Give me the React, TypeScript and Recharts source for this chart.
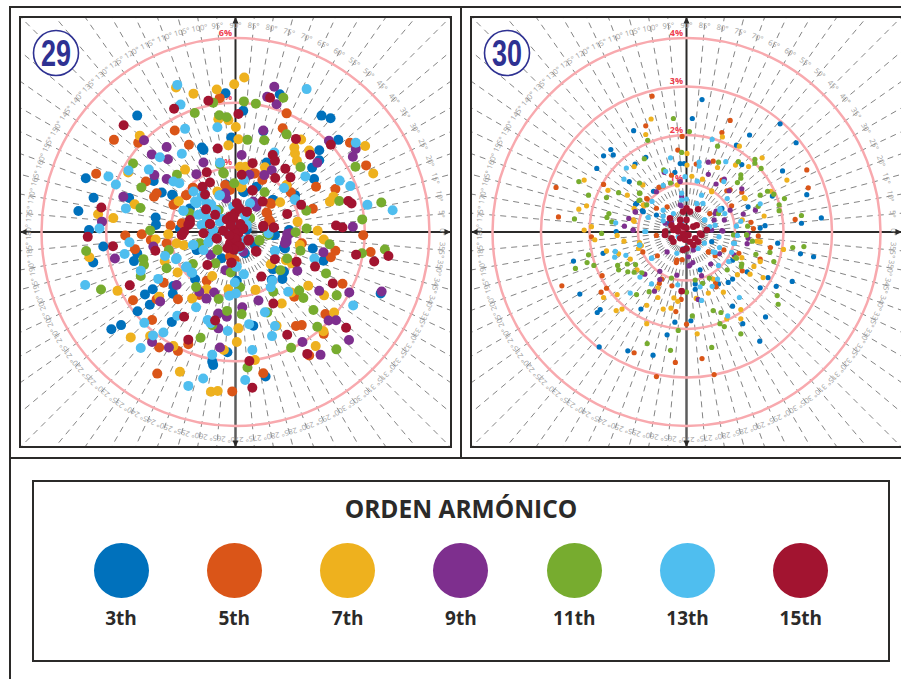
import { ScatterChart, Scatter, XAxis, YAxis, ReferenceLine, ReferenceDot } from "recharts";

const harmonics = ["3th", "5th", "7th", "9th", "11th", "13th", "15th"];
const harmonicColors = ["#0071BC", "#DA5518", "#EEB11E", "#7E2F8E", "#77AC2F", "#4FBEEF", "#A21430"];
const angleTicks = [0,5,10,15,20,25,30,35,40,45,50,55,60,65,70,75,80,85,90,95,100,105,110,115,120,125,130,135,140,145,150,155,160,165,170,175,180,185,190,195,200,205,210,215,220,225,230,235,240,245,250,255,260,265,270,275,280,285,290,295,300,305,310,315,320,325,330,335,340,345,350,355];

const p29h3 = [[-0.31,4.29],[-3.04,3.6],[-1.04,2.61],[-0.13,2.92],[-4.63,1.66],[-4.39,1.06],[-4.86,0.65],[-2.47,0.45],[-2.46,0.22],[-2.53,1.58],[-2.28,1.22],[-1.96,1.15],[-3.29,1.05],[-4.53,0.06],[-0.29,1.47],
[1.37,4.26],[2.66,3.6],[2.94,3.52],[3.18,2.85],[2.59,2.53],[2.59,2.22],[2.37,1.99],[2.43,1.64],[0.24,3.75],[-0.12,2.91],[0.86,3.12],[0.96,2.15],[0.65,1.4],[0.26,1.23],[1.15,0.99],[0.86,0.16],[1.17,-0.1],[1.66,0.06],[0.4,0.47],
[-4.09,-0.45],[-4.4,-0.94],[-3.14,-0.9],[-3.04,-0.66],[-2.56,-1.77],[-2.8,-1.93],[-2.65,-2.25],[-3.03,-2.45],[-1.94,-1.91],[-1.92,-1.67],[-3.54,-2.88],[-3.84,-3.01],[-1.97,-2.78],[-0.72,-4.01],[-0.69,-4.11],[-0.25,-3.72],[-1.2,-0.56],[-1.25,-1.46],
[4.49,-1.9],[2.72,-0.89],[2.39,-0.51],[1.5,-0.47],[1.17,-1.15],[1.5,-1.23],[1.45,-1.45],[1.12,-1.48],[0.04,-1.51],[0.55,-2.9],[0.93,-4.47],
[-0.99,2.54],[-1.94,1.14],[-1.41,0.73],[0.24,1.25],[1.17,0.99],[1.84,1.14],[1.22,-0.09],[1.53,-0.51],[-1.2,-0.54],[-1.72,0.11],[0.35,0.06],[0.29,-0.66],[-0.43,-0.81],[0.6,-0.4]];
const p29h5 = [[-0.49,4.14],[-1.88,3.14],[-3.76,2.85],[-3.01,2.76],[-1.44,2.7],[-4.31,1.8],[-2.77,1.56],[-2.44,1.2],[-2.52,1.09],[-1.87,0.87],[-1.32,1.37],[-1.53,1.14],[-3.41,-0.11],[-2.9,-0.07],[-2.01,0.2],
[1.58,3.67],[1.46,3.21],[3.54,2.76],[4.04,2.06],[2.49,1.4],[1.71,1.23],[3.09,1.33],[2.39,0.72],[3.95,-0.1],[0.98,0.58],[1.04,0.37],[1.1,0.87],[0.83,1.61],[0.6,1.81],[1.58,1.44],
[-3.11,-0.53],[-2.22,-1.57],[-3.17,-2.11],[-2.44,-2.08],[-1.78,-2.08],[-2.58,-2.72],[-1.46,-3.47],[-2.36,-3.57],[-1.78,-3.68],[-2.42,-4.38],[-0.1,-4.93],[-0.89,-1.51],[-1.12,-1.95],[-2.62,-0.25],[-2.13,-0.35],
[3.09,-0.58],[2.95,-0.78],[4.18,-0.62],[3.31,-1.6],[1.82,-2.0],[2.78,-2.54],[1.87,-2.91],[2.05,-2.88],[2.73,-3.15],[0.86,-4.37],[2.28,-3.82],[2.05,-0.35],[-0.07,-0.87],
[-1.3,1.35],[-1.51,1.14],[-0.32,1.45],[-0.17,1.3],[0.96,0.6],[1.07,0.89],[0.55,1.81],[-0.17,-0.76],[-0.02,-0.87],[-1.66,0.27],[-1.92,0.84],[1.07,0.32]];
const p29h7 = [[-1.84,4.47],[-0.58,4.41],[-1.3,4.28],[-0.04,4.57],[-0.53,3.49],[-0.22,3.46],[0.01,3.25],[-2.96,2.98],[0.09,2.87],[-0.22,2.68],[-3.32,1.84],[-1.56,1.93],[-3.12,0.86],[-1.76,0.95],[-4.25,0.55],[-3.78,0.43],[-0.56,1.25],[-2.08,-0.07],[-2.47,-0.23],
[0.27,4.78],[2.03,2.86],[1.82,2.61],[1.84,2.43],[2.28,2.52],[1.9,2.2],[4.01,2.66],[4.26,1.81],[1.38,0.92],[0.17,1.38],[2.92,0.94],[3.03,1.09],[1.92,0.32],[2.54,0.04],[2.73,-0.23],[0.91,2.0],[0.14,2.02],[0.31,2.02],
[-4.52,-0.78],[-1.6,-0.41],[-2.19,-0.9],[-1.79,-1.25],[-3.65,-1.82],[-2.36,-2.0],[-1.34,-2.06],[-0.72,-1.36],[-0.89,-1.77],[-3.24,-3.26],[-2.64,-3.22],[-1.92,-3.53],[-1.72,-4.32],[-0.76,-4.94],[-0.55,-4.92],[-0.36,-3.65],[-0.22,-1.77],[0.04,-3.4],[0.09,-2.98],
[1.99,-0.4],[1.09,-1.0],[1.56,-0.87],[2.25,-1.66],[0.62,-1.79],[2.74,-1.96],[1.72,-1.87],[1.43,-2.21],[3.05,-2.49],[2.72,-3.07],[1.27,-2.9],[2.48,-3.53],[0.6,-3.96],[1.58,1.45],[-1.82,-0.35],[0.19,1.4],[1.74,-0.97]];
const p29h9 = [[-2.83,2.84],[-2.13,2.63],[-2.59,2.4],[-2.09,2.25],[-0.99,2.15],[-2.51,1.76],[-2.13,1.64],[-1.21,1.79],[-3.47,1.09],[-4.13,0.32],[-0.29,1.04],[0.19,2.38],
[1.2,4.49],[0.98,4.18],[1.27,3.95],[0.86,3.14],[2.89,2.82],[3.72,2.57],[3.63,2.33],[2.53,2.14],[1.12,1.91],[0.89,1.76],[0.43,1.77],[0.55,0.94],[0.65,0.78],[3.63,0.16],[1.69,-0.04],[1.58,-0.3],
[-3.73,-0.82],[-2.54,-0.45],[-1.82,-1.64],[-2.33,-2.15],[-1.12,-1.85],[-0.9,-2.06],[-0.66,-1.87],[-0.53,-2.52],[-0.27,-2.62],[-0.53,-2.98],[-2.58,-3.4],[-2.06,-3.57],[-0.48,-3.57],[-0.77,-0.71],[-0.31,-1.18],
[2.72,-0.63],[1.56,-0.25],[1.6,-0.06],[1.91,-1.2],[2.59,-1.82],[3.52,-1.87],[4.52,-1.84],[0.71,-2.12],[0.21,-2.33],[2.88,-2.74],[3.11,-2.73],[3.51,-3.34],[2.07,-3.4],[2.63,-3.8],[0.24,-0.61],
[0.63,0.84],[-0.32,1.2],[-0.71,0.06],[1.58,-0.2],[1.53,-0.35]];
const p29h11 = [[-0.69,4.0],[-1.26,3.68],[-0.5,3.61],[-0.27,3.55],[-3.17,2.12],[-1.81,1.77],[-0.48,2.1],[-0.36,1.81],[-2.91,1.38],[-2.94,0.74],[-0.04,1.51],[-2.64,0.05],[-0.52,0.68],[-1.41,0.58],
[1.48,4.15],[0.26,4.04],[0.63,3.97],[1.58,3.02],[0.89,2.84],[0.37,2.85],[2.01,2.01],[3.71,2.02],[0.9,1.23],[3.21,0.96],[2.19,0.66],[4.51,0.91],[3.92,0.39],[2.2,0.11],[1.86,-0.01],[1.02,-0.09],[0.45,0.44],
[-4.62,-0.59],[-4.16,-1.78],[-2.85,-0.84],[-2.83,-1.02],[-2.93,-1.36],[-2.13,-1.12],[-2.06,-0.56],[-1.32,-0.99],[-1.22,-1.7],[-0.52,-2.07],[-0.26,-2.44],[-0.72,-2.88],[-1.08,-3.27],[-0.62,-0.97],[-0.15,-1.25],[-0.56,-0.56],[-1.1,-0.35],
[0.74,-0.27],[2.01,-0.58],[1.6,-0.82],[2.91,-0.38],[3.91,-0.66],[4.62,-0.54],[2.8,-1.28],[1.39,-1.18],[1.17,-1.85],[1.97,-1.81],[2.1,-2.04],[3.13,-1.96],[2.41,-2.41],[0.98,-2.49],[0.19,-2.54],[2.53,-2.93],[1.72,-3.58],[3.12,-3.63],[0.37,-4.19],[0.14,-1.71],
[-0.38,1.84],[-0.99,0.22],[0.45,0.42],[0.74,-0.25],[0.99,-0.07],[-0.55,-0.54]];
const p29h13 = [[-1.8,4.55],[-1.7,3.94],[-1.56,3.19],[-0.56,3.24],[-2.34,2.31],[-1.66,2.42],[-0.48,2.14],[-2.68,1.93],[-3.93,1.72],[-3.7,1.47],[-1.92,1.56],[-1.74,1.51],[-3.39,0.73],[-1.61,0.66],[-4.21,0.11],[-0.5,1.13],[-1.25,0.94],[-1.05,1.09],[-3.31,1.9],
[2.2,4.42],[3.72,2.76],[1.2,2.46],[0.26,1.61],[2.16,1.72],[3.22,1.59],[3.55,1.42],[1.5,1.36],[1.84,1.01],[4.08,0.84],[4.86,0.67],
[-4.65,-1.64],[-3.43,-0.68],[-3.28,-0.32],[-2.93,-1.2],[-2.39,-1.45],[-2.18,-0.74],[-1.84,-0.84],[-1.32,-0.4],[-0.84,-0.32],[-1.53,-1.09],[-1.34,-1.26],[-1.22,-2.33],[-1.8,-2.59],[-2.82,-2.81],[-0.86,-2.72],[-0.77,-2.82],[-2.23,-3.11],[-2.55,-3.2],[-0.24,-3.06],[-2.93,-3.59],[-0.72,-3.8],[-1.0,-4.53],[-1.46,-4.76],[-0.02,-1.56],[0.01,-1.9],[-0.19,-1.97],
[1.22,-0.59],[2.44,-0.82],[0.26,-1.31],[1.14,-1.51],[1.09,-1.71],[1.63,-1.85],[3.64,-2.27],[0.91,-2.48],[0.42,-2.85],[1.22,-2.91],[1.13,-3.22],[0.52,-3.65],[0.3,-4.58],[0.02,-1.07],
[-1.3,1.25],[-0.99,1.3],[-1.2,0.89],[-1.15,0.53],[-0.89,0.42],[-1.61,0.66],[-1.05,0.22],[-0.69,0.06],[-0.79,-0.2],[-0.99,-0.56],[-0.48,1.14],[-0.07,0.78],[0.19,0.22],[0.35,0.22],[-1.3,-0.4],[-1.82,-0.81],[-1.51,-1.07],[-1.36,-1.25],[0.04,-1.07],[1.22,-0.58],[1.84,0.99],[-0.48,0.32],[-0.12,0.22],[0.24,-0.25],[0.45,0.89],[1.02,-0.04],
[-0.9,0.9],[-1.0,0.6],[-0.4,0.4],[-0.3,0.0],[0.1,-0.5],[0.3,0.5],[-0.6,0.65],[-0.75,0.85]];
const p29h15 = [[-0.84,4.06],[-1.9,3.81],[-3.46,3.3],[-0.55,2.58],[-0.89,1.85],[0.09,3.65],[-0.79,1.53],[-1.02,1.4],[-0.94,1.16],[-4.15,0.76],[-4.57,-0.15],[-0.91,0.7],[-0.63,0.53],[-1.41,0.37],[-1.41,0.27],[-0.79,0.25],[-0.17,0.47],[-0.02,0.58],[-0.38,0.04],[-0.02,0.06],
[1.07,4.15],[1.87,2.88],[2.95,2.7],[2.31,2.39],[1.15,2.38],[1.22,2.2],[0.53,2.13],[1.54,1.96],[0.19,1.77],[1.23,1.67],[1.7,1.69],[0.52,1.29],[0.84,0.94],[2.03,0.84],[3.49,0.96],[3.59,0.88],[1.6,0.56],[0.35,0.63],[3.11,0.2],[3.31,0.14],[0.86,0.16],[1.18,0.14],[0.24,0.11],[-0.07,0.47],[0.4,-0.27],
[-3.79,-0.44],[-2.48,-0.58],[-3.27,-1.65],[-1.59,-2.62],[-0.63,-2.74],[-1.46,-3.33],[-0.87,-1.02],[-0.13,-0.95],[-1.66,-0.09],[-0.58,-0.2],[-0.99,-0.04],[-0.17,-0.35],[0.04,-0.25],
[3.73,-0.7],[4.73,-0.74],[4.29,-0.91],[1.22,-0.84],[1.89,-0.92],[2.46,-1.07],[0.8,-1.38],[3.01,-1.59],[1.17,-2.21],[3.42,-2.96],[1.6,-3.18],[2.22,-3.77],[0.43,-3.99],[0.52,-4.82],[0.63,-0.59],[0.4,-0.23],[0.14,-0.45],[-0.12,-0.95],
[0.04,0.89],[0.12,0.73],[0.35,0.63],[-0.27,0.39],[-0.07,0.42],[-0.79,0.25],[-1.46,0.22],[-1.66,-0.09],[-1.59,0.01],[0.09,-0.04],[0.24,0.11],[-0.02,-0.2],[0.42,-0.23],[0.09,-0.45],[-0.58,-0.2],[0.65,-0.61],[0.86,0.19],[1.19,0.14],[0.53,1.28],[-0.2,-0.1],[-0.05,-0.55],[-0.25,-0.5],[0.15,0.25],[-0.15,0.2]];

const p30h3 = [[-1.09,2.09],[-1.56,1.7],[-1.71,1.57],[-1.51,1.59],[-1.85,1.31],[-1.06,1.4],[-0.84,1.54],[-0.68,0.84],[-0.13,1.41],[-0.05,1.41],[-0.24,1.23],[0.12,2.34],[-1.05,0.57],[-0.91,0.44],[-1.18,1.04],[-1.45,0.01],
[0.32,2.73],[1.93,2.23],[2.26,1.84],[1.3,2.0],[1.03,1.79],[1.14,1.39],[1.98,1.26],[2.48,0.77],[1.77,0.74],[1.27,0.52],[2.78,0.29],[2.37,0.18],[1.62,0.13],[1.52,0.08],
[-2.33,-0.6],[-1.72,-0.44],[-2.2,-1.28],[-1.78,-1.6],[-1.84,-1.66],[-0.94,-1.59],[-0.24,-1.86],[-0.4,-2.12],[-1.8,-2.37],[-1.21,-2.45],[-0.69,-2.54],[0.09,-1.83],
[1.88,-0.23],[2.35,-0.45],[2.62,-0.51],[1.68,-0.94],[2.18,-1.02],[1.85,-1.12],[1.52,-1.15],[1.25,-0.82],[0.95,-0.97],[0.86,-1.04],[0.66,-1.07],[0.18,-1.07],[0.18,-1.18],[0.95,-1.53],[1.63,-1.75],[1.16,-1.89],[1.51,-2.25],[0.95,-0.58],
[0.52,-0.2],[-0.37,0.18],[0.28,-0.78],[0.73,0.49],[-1.03,0.59],[-0.89,0.42],[-0.62,0.35]];
const p30h5 = [[-0.71,2.8],[-0.84,2.19],[-0.09,1.97],[-2.69,0.92],[-2.64,0.31],[-1.71,0.98],[-0.18,1.69],[-0.31,1.17],[-0.57,0.92],[-0.81,0.68],[-0.62,0.49],[-0.4,0.52],[-1.96,-0.1],[-0.62,-0.07],
[0.9,2.3],[0.73,2.05],[2.48,1.28],[2.51,0.91],[0.83,0.85],[1.14,0.82],[0.93,0.54],[2.24,0.26],[1.33,0.2],[1.38,0.07],[1.48,-0.08],[0.55,1.46],[0.2,1.4],[0.73,1.07],
[-2.57,-1.11],[-1.74,-0.9],[-1.65,-1.16],[-1.76,-1.24],[-0.9,-0.41],[-0.6,-0.49],[-0.21,-0.63],[-0.09,-0.57],[-0.22,-1.64],[0.0,-1.9],[-0.11,-1.39],[-1.08,-2.49],[-0.62,-2.98],[-0.23,-2.69],[-0.3,-1.11],[-0.56,-1.06],[-0.51,-0.97],
[1.73,-0.32],[1.52,-0.56],[1.15,-0.8],[1.08,-0.44],[0.77,-0.37],[0.46,-0.41],[0.59,-0.49],[0.6,-1.04],[0.61,-1.13],[0.32,-2.61],[0.57,-2.94],[0.98,-0.22],
[-0.48,0.95],[-0.82,0.69],[0.48,0.38],[0.9,0.87],[0.45,-0.41],[-0.2,-0.58]];
const p30h7 = [[-0.73,2.33],[-0.84,2.01],[-2.11,1.07],[-1.08,1.35],[-1.62,0.86],[-1.22,0.76],[-0.9,0.97],[-2.06,0.54],[-2.22,0.47],[-1.08,0.49],[-0.88,0.54],[-1.08,0.22],[-1.96,0.11],[-2.11,0.04],[-1.43,-0.07],[0.01,1.62],[0.01,1.38],[-0.19,0.97],[0.11,1.15],
[0.74,1.96],[1.09,1.77],[1.56,1.53],[1.28,1.35],[0.64,1.33],[1.01,1.38],[2.07,1.07],[1.74,0.84],[1.19,0.71],[1.6,0.33],[0.52,0.85],[0.33,1.09],[1.15,0.25],
[-1.89,-0.16],[-1.65,-0.39],[-1.4,-0.45],[-1.29,-0.19],[-1.16,-0.56],[-0.97,-0.22],[-0.93,-0.28],[-0.99,-0.34],[-1.71,-1.35],[-1.43,-1.29],[-1.45,-1.62],[-1.33,-1.59],[-0.82,-1.51],[-0.59,-1.35],[-0.48,-1.59],[-0.32,-1.57],[-0.18,-1.43],[-0.26,-1.36],[-0.82,-1.89],[-0.59,-1.15],[-1.02,-0.78],
[2.0,-0.36],[1.52,-0.2],[1.45,-0.19],[1.52,-0.61],[1.39,-0.71],[1.14,-0.53],[1.05,-0.88],[1.31,-0.87],[1.58,-0.94],[0.76,-1.24],[0.45,-1.26],[0.55,-0.97],[0.2,-1.37],[1.12,-1.6],[1.12,-1.79],[0.83,-1.79],[0.22,-2.1],[0.99,-0.51],
[-1.1,0.25],[0.52,0.83],[-0.89,0.56],[1.21,0.69]];
const p30h9 = [[-0.46,1.23],[-0.62,0.83],[-1.05,0.41],[-1.19,0.28],[-1.28,0.12],[-1.1,0.04],[-0.11,0.54],[-0.13,1.04],[-0.1,0.73],[-0.46,-0.06],
[0.45,1.44],[0.78,1.09],[0.61,0.99],[0.45,1.19],[0.88,0.85],[1.14,0.89],[1.42,0.45],[1.17,0.37],[0.61,0.43],[0.78,0.25],[0.57,0.25],[0.73,0.03],[1.27,-0.03],
[-0.55,-0.81],[-0.4,-0.41],[-0.55,-0.98],[-0.86,-0.87],[-0.66,-1.22],[-0.2,-0.89],[0.05,-0.7],[0.13,-0.63],
[0.31,-0.9],[0.5,-0.66],[0.68,-0.45],[1.25,-0.24],[1.27,-0.13],[0.98,-0.47],[0.24,-1.39],[0.75,0.02],
[-0.31,0.21],[-0.44,0.18],[0.59,0.38],[0.52,0.04],[0.07,-0.68],[0.04,-0.51],[-1.06,0.42],[-1.1,0.04],[0.9,0.45],[-0.13,0.56],[0.14,-0.37]];
const p30h11 = [[-0.27,2.34],[-0.8,1.89],[0.06,2.07],[-0.1,1.64],[-0.87,1.51],[-2.22,1.04],[-2.02,0.76],[-1.65,0.71],[-1.4,0.81],[-0.97,0.8],[-0.97,1.01],[-0.98,0.65],[-0.33,1.01],[-1.6,0.38],[-1.64,0.3],[-2.31,0.27],[-1.54,0.21],[-1.75,-0.03],[-0.47,1.28],
[0.64,1.77],[0.66,1.44],[1.07,1.45],[1.41,1.5],[1.41,1.42],[1.54,1.31],[1.12,1.18],[1.12,1.11],[1.05,1.02],[1.8,0.78],[1.67,0.84],[1.52,0.76],[1.91,0.56],[2.02,0.69],[1.91,0.44],[1.48,0.53],[2.37,0.34],[1.26,0.12],[1.24,-0.06],
[-2.02,-0.47],[-2.05,-0.63],[-2.29,-0.75],[-1.91,-0.69],[-1.42,-0.69],[-1.4,-0.78],[-1.22,-0.66],[-1.05,-0.67],[-1.21,-0.82],[-1.08,-0.83],[-1.03,-1.29],[-0.77,-1.23],[0.0,-1.24],[-0.31,-0.95],[-0.17,-2.03],[-0.81,-2.3],[-0.33,-2.44],[-0.92,-0.84],[0.12,-1.73],
[2.19,-0.32],[2.42,-0.3],[1.72,-0.42],[1.43,-0.46],[1.8,-0.61],[1.36,-0.19],[1.14,-0.66],[1.13,-0.71],[1.02,-0.53],[0.84,-0.78],[0.47,-0.95],[0.33,-1.06],[0.18,-0.99],[1.87,-1.31],[1.89,-1.49],[0.55,-1.62],[0.71,-1.66],[0.69,-1.89],[0.78,-1.95],[1.12,-2.1],[0.52,-2.38],
[-0.96,0.8],[-0.96,0.66],[-0.82,0.56],[0.66,0.38],[0.97,-0.06],[1.24,-0.06],[1.03,-0.54]];
const p30h13 = [[-0.33,1.53],[-1.24,1.32],[-0.43,1.25],[-1.29,1.09],[-0.48,0.96],[-0.71,0.63],[-0.79,0.3],[-1.46,0.19],[-0.03,1.14],[-0.84,0.01],[-0.48,0.33],[-0.48,0.23],[-0.1,0.8],[0.0,0.68],
[0.53,1.91],[0.81,1.45],[0.26,1.44],[0.26,1.36],[0.77,1.04],[0.22,1.05],[0.84,0.69],[0.34,0.59],[0.31,0.76],[0.79,0.38],[0.69,0.48],[0.37,0.25],[1.12,0.22],[1.03,0.12],[0.67,-0.1],[1.05,-0.07],[1.52,0.58],
[-1.47,-0.4],[-1.48,-0.52],[-1.25,-0.48],[-0.97,-0.27],[-1.16,-1.26],[-0.72,-0.54],[-0.96,-0.93],[-0.72,-1.07],[-0.18,-1.09],[-0.17,-0.1],[-0.01,-0.34],
[0.37,-0.23],[0.68,-0.32],[0.59,-0.42],[0.99,-0.23],[0.93,-0.42],[0.87,-0.61],[0.66,-0.69],[0.64,-0.97],[0.53,-1.12],[1.09,-1.35],[0.31,-1.41],[0.85,-1.73],
[-0.86,0.01],[-0.1,0.21],[0.48,0.11],[0.59,0.14],[-0.07,-0.34],[0.55,-0.41],[0.24,-0.34],[-0.2,-0.44],[-0.72,-0.54],[-0.96,-0.27],[0.97,-0.23],[0.28,-1.13],[-0.48,0.45],[-0.27,0.38],[0.38,0.25],[0.69,0.45],[0.21,0.59],[-0.1,0.66]];
const p30h15 = [[0.0,0.49],[0.07,0.42],[-0.07,0.42],[0.24,0.47],[-0.13,0.14],[-0.07,0.11],[0.0,0.08],[-0.17,0.01],[-0.07,-0.03],[0.04,-0.06],[0.14,0.11],[0.21,0.14],[-0.2,0.08],[-0.27,0.04],[-0.44,0.01],[-0.44,-0.06],[-0.31,-0.13],[-0.27,-0.2],[-0.13,-0.13],[-0.03,-0.1],[0.07,-0.2],[0.18,-0.13],[0.24,-0.2],[0.0,-0.34],[-0.07,-0.37],[0.14,-0.27],[0.31,-0.06],[0.42,0.04],[0.28,-0.03],[-0.34,0.28],[-0.31,0.14],[-0.03,-0.16],[0.0,0.25],[-0.13,0.25],[-0.1,-1.22]];

const panel29 = [p29h3, p29h5, p29h7, p29h9, p29h11, p29h13, p29h15];
const panel30 = [p30h3, p30h5, p30h7, p30h9, p30h11, p30h13, p30h15];
const rings29 = [2, 4, 6];
const rings30 = [1, 2, 3, 4];

const INK = "#2b2a29";
const FONT = "'Open Sans', sans-serif";

function AngleLabel(props: any) {
  const { cx, cy, payload } = props;
  return (
    <text x={cx} y={cy} fontSize={7.5} fontFamily={FONT} fill="#a2a2a2" textAnchor="middle" dominantBaseline="central"
      transform={`rotate(${90 - payload.deg} ${cx} ${cy})`}>
      {payload.deg}°
    </text>
  );
}

function RingLabel(props: any) {
  const { cx, cy, payload } = props;
  return (
    <text x={cx} y={cy} fontSize={9} fontWeight={700} fontFamily={FONT} fill="#ef4050" textAnchor="middle" dominantBaseline="central">
      {payload.pct}%
    </text>
  );
}

function Arrow(props: any) {
  const { cx, cy, payload } = props;
  return <path d="M0 0 L-3 6.5 L3 6.5 Z" fill={INK} transform={`translate(${cx} ${cy}) rotate(${payload.rot})`} />;
}

function PolarPanel({ left, series, rings, pxPerPct }: { left: number; series: number[][][]; rings: number[]; pxPerPct: number }) {
  const limX = 215.5 / pxPerPct;
  const limY = 215 / pxPerPct;
  const rayStart = 16 / pxPerPct;
  const labelR = 207.5 / pxPerPct;
  const small = pxPerPct > 40;

  const rays = angleTicks.map((deg) => {
    const c = Math.cos((deg * Math.PI) / 180);
    const s = Math.sin((deg * Math.PI) / 180);
    const end = Math.min(limX / Math.max(Math.abs(c), 1e-6), limY / Math.max(Math.abs(s), 1e-6));
    return [
      { x: c * rayStart, y: s * rayStart },
      { x: c * end, y: s * end },
    ];
  });
  const angleData = angleTicks.map((deg) => ({
    deg,
    x: Math.cos((deg * Math.PI) / 180) * labelR,
    y: Math.sin((deg * Math.PI) / 180) * labelR,
  }));
  const ringData = rings.map((pct) => ({ pct, x: -10 / pxPerPct, y: pct + 6 / pxPerPct }));
  const arrows = [
    { x: limX, y: 0, rot: 90 },
    { x: -limX, y: 0, rot: -90 },
    { x: 0, y: limY, rot: 0 },
    { x: 0, y: -limY, rot: 180 },
  ];

  return (
    <div style={{ position: "absolute", left, top: 17, width: 431, height: 430 }}>
      <ScatterChart width={431} height={430} margin={{ top: 0, right: 0, bottom: 0, left: 0 }}>
        <XAxis type="number" dataKey="x" domain={[-limX, limX]} hide allowDataOverflow />
        <YAxis type="number" dataKey="y" domain={[-limY, limY]} hide allowDataOverflow />
        {rays.map((seg, i) => (
          <ReferenceLine key={i} segment={seg} stroke="#767676" strokeWidth={0.9} strokeDasharray="6 5" ifOverflow="visible" />
        ))}
        {rings.map((r) => (
          <ReferenceDot key={r} x={0} y={0} r={r * pxPerPct} fill="none" stroke="#F8A9AE" strokeWidth={2.5} ifOverflow="visible" />
        ))}
        <ReferenceLine y={0} stroke={INK} strokeWidth={2} />
        <ReferenceLine segment={[{ x: 0, y: 0 }, { x: 0, y: limY }]} stroke={INK} strokeWidth={2} />
        <ReferenceLine segment={[{ x: 0, y: 0 }, { x: 0, y: -limY }]} stroke="#5c5c5c" strokeWidth={2.5} />
        <Scatter data={angleData} shape={AngleLabel} isAnimationActive={false} />
        <Scatter data={ringData} shape={RingLabel} isAnimationActive={false} />
        <Scatter data={arrows} shape={Arrow} isAnimationActive={false} />
        {series.map((pts, i) => (
          <Scatter
            key={harmonics[i]}
            name={harmonics[i]}
            data={pts.map(([x, y]) => ({ x, y }))}
            isAnimationActive={false}
            shape={(p: any) => <circle cx={p.cx} cy={p.cy} r={small ? (i === 6 ? 3.3 : 2.6) : 5} fill={harmonicColors[i]} />}
          />
        ))}
      </ScatterChart>
    </div>
  );
}

function Badge({ left, label }: { left: number; label: string }) {
  return (
    <svg style={{ position: "absolute", left, top: 28 }} width={50} height={50}>
      <circle cx={25} cy={25} r={22.5} fill="#fff" stroke="#2E3192" strokeWidth={1.6} />
      <text x={25} y={38} textAnchor="middle" fontSize={36} fontWeight={700} textLength={30} lengthAdjust="spacingAndGlyphs"
        fontFamily="'Liberation Sans', sans-serif" fill="#2E3192">
        {label}
      </text>
    </svg>
  );
}

function line(left: number, top: number, width: number, height: number) {
  return <div style={{ position: "absolute", left, top, width, height, background: INK }} />;
}

export default function App() {
  return (
    <div style={{ position: "absolute", left: 0, top: 0, width: 901, height: 679, overflow: "hidden", background: "#fff", fontFamily: FONT }}>
      {line(9, 6, 892, 2)}
      {line(9, 6, 2, 673)}
      {line(460, 6, 2, 452)}
      {line(9, 457, 892, 2)}

      <PolarPanel left={20} series={panel29} rings={rings29} pxPerPct={32.33} />
      <PolarPanel left={471} series={panel30} rings={rings30} pxPerPct={48.5} />

      <div style={{ position: "absolute", left: 19, top: 16, width: 429, height: 428, border: `2px solid ${INK}` }} />
      <div style={{ position: "absolute", left: 470, top: 16, width: 440, height: 428, border: `2px solid ${INK}` }} />
      <Badge left={31} label="29" />
      <Badge left={482} label="30" />

      <div style={{ position: "absolute", left: 32, top: 480, width: 854, height: 178, border: `2px solid ${INK}` }}>
        <div style={{ position: "absolute", left: 0, right: 0, top: 10, textAlign: "center", fontSize: 24.5, fontWeight: 700, color: INK }}>
          ORDEN ARMÓNICO
        </div>
        {harmonics.map((h, i) => (
          <div key={h} style={{ position: "absolute", left: 37 + i * 113.3, top: 61, width: 100, textAlign: "center" }}>
            <div style={{ width: 55, height: 55, margin: "0 auto", borderRadius: "50%", background: harmonicColors[i] }} />
            <div style={{ marginTop: 7, fontSize: 19, fontWeight: 700, color: INK, lineHeight: "27px" }}>{h}</div>
          </div>
        ))}
      </div>
    </div>
  );
}
